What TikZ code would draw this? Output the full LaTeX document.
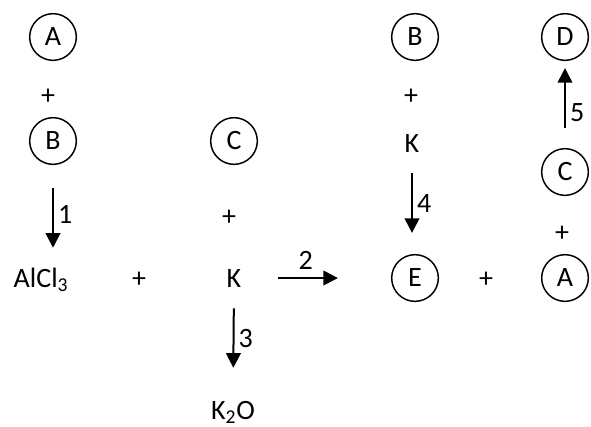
\documentclass[tikz,border=0pt]{standalone}
\usepackage{fontspec}
\setmainfont{Carlito}
\usetikzlibrary{arrows.meta}
\begin{document}
\begin{tikzpicture}[x=0.75pt,y=-0.75pt,
  font=\fontsize{21}{25}\selectfont,
  mol/.style={circle,draw,line width=1.1pt,minimum size=35pt,inner sep=0pt},
  txt/.style={inner sep=0pt,text height=13.5pt,text depth=0pt},
  arr/.style={line width=1.5pt,-{Triangle[length=11pt,width=11pt]}},
  lab/.style={inner sep=3pt,font=\fontsize{21}{25}\selectfont}]
\useasboundingbox (0,0) rectangle (591,426);
% left column
\node[mol] (A1) at (53,37) {A};
\node[txt] (p1) at (48,95) {+};
\node[mol] (B1) at (53,141) {B};
\node[txt] (AlCl) at (41,278) {AlCl\textsubscript{3}};
\node[txt] (p2) at (139,278) {+};
\node[mol] (C1) at (234,141) {C};
\node[txt] (p3) at (229,216) {+};
\node[txt] (K1) at (234,278) {K};
\node[txt] (K2O) at (233,410) {K\textsubscript{2}O};
% right part
\node[mol] (B2) at (415,37) {B};
\node[txt] (p4) at (411,95) {+};
\node[txt] (K2) at (412,143) {K};
\node[mol] (E) at (415,278) {E};
\node[txt] (p5) at (486,278) {+};
\node[mol] (A2) at (565,278) {A};
\node[txt] (p6) at (562,232) {+};
\node[mol] (C2) at (565,172) {C};
\node[mol] (D) at (565,37) {D};
% arrows
\draw[arr,shorten <=17.25pt,shorten >=15.75pt] (B1.south) -- (B1.south |- AlCl.north)
  node[lab,pos=0.48,right] {1};
\draw[arr,shorten <=27.5pt,shorten >=39.75pt] (K1.east) -- (E.west)
  node[lab,pos=0.43,above=3pt] {2};
\draw[arr,shorten <=15.75pt,shorten >=24.7pt] (K1.south) -- (K2O.north)
  node[lab,pos=0.45,right] {3};
\draw[arr,shorten <=15.75pt,shorten >=15.75pt] (K2.south) -- (K2.south |- E.north)
  node[lab,midway,right] {4};
\draw[arr,shorten <=15pt,shorten >=5.25pt] (C2.north) -- (D.south)
  node[lab,pos=0.41,right] {5};
\end{tikzpicture}
\end{document}
